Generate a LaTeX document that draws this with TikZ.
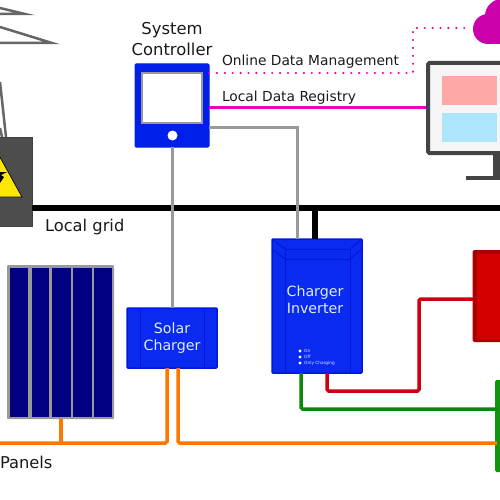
\documentclass[tikz,border=0pt]{standalone}
\usepackage{fontspec}
\setmainfont{DejaVu Sans}
\definecolor{wireGray}{HTML}{999999}
\definecolor{darkGray}{HTML}{4D4D4D}
\definecolor{monGray}{HTML}{444444}
\definecolor{towerGray}{HTML}{666666}
\definecolor{boxBlue}{HTML}{0A2AF0}
\definecolor{edgeBlue}{HTML}{0018DD}
\definecolor{ctrlBlue}{HTML}{0020EA}
\definecolor{navyCell}{HTML}{000080}
\definecolor{mag}{HTML}{EE00BB}
\definecolor{cloudMag}{HTML}{CC00AA}
\definecolor{wireOrange}{HTML}{FF7700}
\definecolor{wireGreen}{HTML}{0C860C}
\definecolor{busGreen}{HTML}{0F960F}
\definecolor{wireRed}{HTML}{CC0011}
\definecolor{batFill}{HTML}{D40000}
\definecolor{batEdge}{HTML}{AA0000}
\definecolor{txt}{HTML}{1A1A1A}
\definecolor{txtLight}{HTML}{DDEEFF}
\tikzset{
  x=1pt,y=-1pt,
  sq/.style={rectangle,inner sep=0pt,outer sep=0pt,anchor=north west},
  bluebox/.style={sq,draw=edgeBlue,fill=boxBlue,line width=1.5pt,rounded corners=1pt},
  wire/.style={line width=#1,rounded corners=1.5pt},
  wire/.default=3pt,
  lbl/.style={inner sep=0pt,outer sep=0pt,text=txt,anchor=base west},
  lt/.style={inner sep=0pt,outer sep=0pt,text=txtLight,font=\fontsize{14.2pt}{17pt}\selectfont,align=center},
  inner/.style={draw=edgeBlue,line width=1pt}
}
\begin{document}
\begin{tikzpicture}
\useasboundingbox (0,0) rectangle (500,500);
\clip (0,0) rectangle (500,500);
% tower
\draw[towerGray,line width=2.5pt] (0,8) -- (25,14) -- (0,14);
\draw[towerGray,line width=2.5pt] (0,27) -- (52,43) -- (0,43);
\draw[towerGray,line width=2.5pt] (0,82) -- (6,137);
\draw[towerGray,line width=2.5pt] (0,128) -- (2,137);
% nodes
\node[sq,draw=darkGray!85!black,fill=darkGray,line width=1pt,minimum width=50pt,minimum height=89pt] (gridbox) at (-18,137) {};
\node[sq,draw=ctrlBlue,fill=ctrlBlue,line width=1pt,rounded corners=1pt,minimum width=74pt,minimum height=83pt] (ctrl) at (135,64) {};
\node[sq,draw=wireGray,fill=white,line width=1.5pt,minimum width=60pt,minimum height=50pt] (screen) at (142,73) {};
\node[circle,fill=white,inner sep=0pt,minimum size=10pt] (led) at (172.5,135.5) {};
\node[sq,draw=monGray,fill=white!96!black,line width=4pt,rounded corners=1.5pt,minimum width=90pt,minimum height=90pt] (monitor) at (428,63) {};
\node[sq,fill=red!34!white,minimum width=55pt,minimum height=29pt] (pink) at (442,76) {};
\node[sq,fill=cyan!32!white,minimum width=55pt,minimum height=29pt] (sky) at (442,113) {};
\fill[monGray] (493,154) rectangle (510,176);
\fill[monGray] (466,176) rectangle (510,179.5);
\fill[cloudMag] (488,29) circle (15);
\fill[cloudMag] (502,16) circle (17);
\fill[cloudMag] (490,20) rectangle (510,44);
% solar panel
\node[sq,fill=wireGray,rounded corners=1pt,minimum width=107pt,minimum height=154pt] (panel) at (7,265) {};
\foreach \a/\w in {10/18,32/16.5,52/19,73/19,94/18}
  \fill[navyCell] (\a,268) rectangle +(\w,149);
% boxes
\node[bluebox,minimum width=90pt,minimum height=60pt] (solar) at (127,308) {};
\draw[inner] (140,308) -- (140,368) (204,308) -- (204,368);
\node[bluebox,minimum width=90pt,minimum height=134pt] (inv) at (272,239) {};
\draw[inner] (285,259) -- (285,373) (350,259) -- (350,373);
\draw[inner] (285,249) rectangle (350,259);
\draw[inner] (272,239) -- (285,249) (362,239) -- (350,249) (272,249) -- (285,259) (362,249) -- (350,259);
\node[sq,fill=batEdge,rounded corners=1.5pt,minimum width=40pt,minimum height=92pt] (bat) at (472.5,250) {};
\fill[batFill] (477,254) rectangle (510,339);
\node[sq,fill=busGreen,rounded corners=1.5pt,minimum width=12pt,minimum height=92pt] (bus) at (495,380) {};
% triangle
\fill[yellow!90!orange,draw=black,line width=.7pt] (-4,150) -- (22,197) -- (-30,197) -- cycle;
\fill[black] (7,172) -- (1,175) -- (4,177) -- (-2,186) -- (-6,180) -- (-6,172) -- cycle;
% connectors
\coordinate (ctrlLow) at (209,127);
\coordinate (ctrlDot) at (209,73);
\coordinate (ctrlReg) at (209,108);
\coordinate (monReg) at (426,108);
\coordinate (cloudIn) at (470,28);
\coordinate (busLeft) at (32,208);
\coordinate (busRight) at (500,208);
\coordinate (invTop) at (315,208);
\coordinate (invBlack) at (315,239);
\draw[black,line width=6pt] (busLeft) -- (busRight);
\draw[wireGray,line width=3pt] (ctrl.south) -- (solar.north);
\draw[wireGray,line width=3pt] (ctrlLow) -- (297,127) -- (297,239);
\draw[black,line width=6pt] (invTop) -- (invBlack);
\draw[mag,line width=3pt] (ctrlReg) -- (monReg);
\draw[mag,line width=2.4pt,line cap=round,dash pattern=on 0pt off 7.9pt] (ctrlDot) -- (413,73) -- (413,28) -- (cloudIn);
\coordinate (panelDrop) at (61,419);
\coordinate (orangeL) at (0,443);
\coordinate (solarL) at (167,368);
\coordinate (solarR) at (178,368);
\coordinate (busOrange) at (497,443);
\draw[wireOrange,line width=3.5pt] (panelDrop) -- (61,443);
\draw[wireOrange,wire=3.5pt] (orangeL) -- (167,443) -- (solarL);
\draw[wireOrange,wire=3.5pt] (solarR) -- (178,443) -- (busOrange);
\coordinate (invG) at (301,373);
\coordinate (invR) at (327,373);
\coordinate (busG) at (497,409);
\coordinate (batIn) at (473,299);
\draw[wireGreen,wire=3.5pt] (invG) -- (301,409) -- (busG);
\draw[wireRed,wire=3.5pt] (invR) -- (327,391) -- (419,391) -- (419,299) -- (batIn);
% labels
\node[inner sep=0pt,text=txt,font=\fontsize{16.4pt}{20.5pt}\selectfont,align=center] (ctrlLbl) at (172,39) {System\\Controller};
\node[lbl,font=\fontsize{13.8pt}{16pt}\selectfont] (online) at (222,66) {Online Data Management};
\node[lbl,font=\fontsize{13.8pt}{16pt}\selectfont] (local) at (222,102) {Local Data Registry};
\node[lbl,font=\fontsize{16.3pt}{20pt}\selectfont] (gridLbl) at (45,231) {Local grid};
\node[lbl,font=\fontsize{16.3pt}{20pt}\selectfont] (panelLbl) at (0,468) {Panels};
\node[lt] (solarLbl) at (172,338) {Solar\\Charger};
\node[lt] (invLbl) at (315,299.5) {Charger\\Inverter};
\foreach \y/\n/\t in {351/a/On,357/b/Off,363/c/Only Charging}{
  \fill[white] (300,\y) circle (1.6);
  \node[inner sep=0pt,anchor=west,text=txtLight,font=\fontsize{4.3pt}{5pt}\selectfont] (st\n) at (304,\y) {\t};
}
\end{tikzpicture}
\end{document}
